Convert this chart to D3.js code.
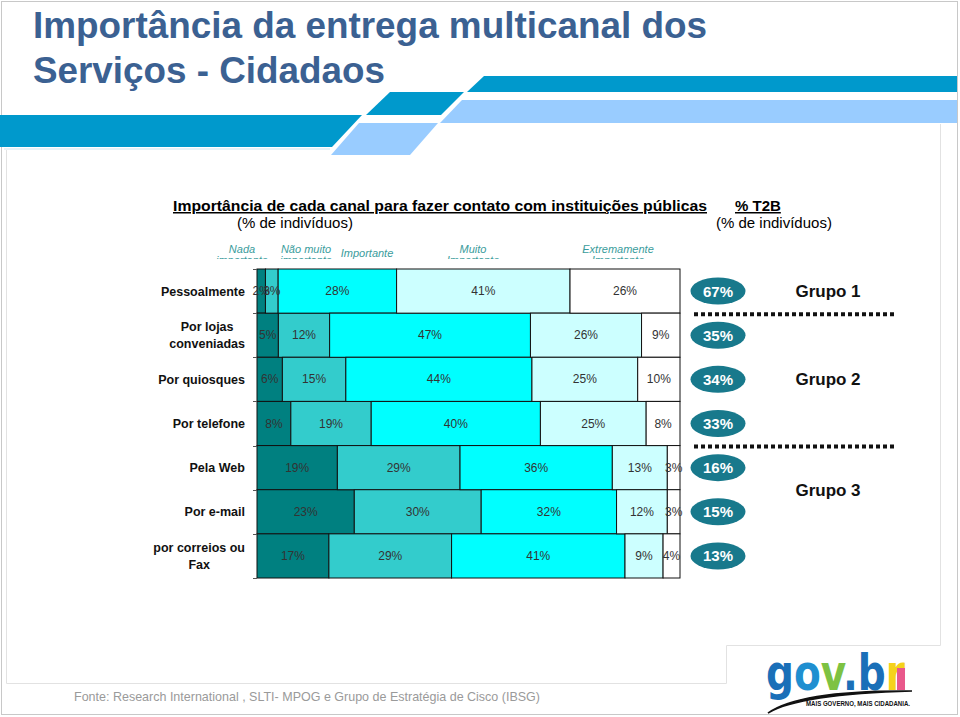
<!DOCTYPE html>
<html><head><meta charset="utf-8">
<script src="https://cdn.jsdelivr.net/npm/d3@7"></script>
<style>body{margin:0;background:#fff}svg{display:block}</style>
</head><body>
<script>
const categories = ["Pessoalmente","Por lojas\nconveniadas","Por quiosques","Por telefone","Pela Web","Por e-mail","por correios ou\nFax"];
const levels = ["Nada importante","Não muito importante","Importante","Muito Importante","Extremamente Importante"];
const nada        = [2, 5, 6, 8, 19, 23, 17];
const naoMuito    = [3, 12, 15, 19, 29, 30, 29];
const importante  = [28, 47, 44, 40, 36, 32, 41];
const muito       = [41, 26, 25, 25, 13, 12, 9];
const extremamente= [26, 9, 10, 8, 3, 3, 4];
const t2b = [67, 35, 34, 33, 16, 15, 13];
const groups = ["Grupo 1","Grupo 2","Grupo 3"];

const W=960,H=717;
const svg=d3.select("body").append("svg").attr("width",W).attr("height",H);
const F="Liberation Sans, Arial, sans-serif";
const FN="'Liberation Sans Narrow','Arial Narrow',Liberation Sans,Arial,sans-serif";

// frame
svg.append("rect").attr("x",1.5).attr("y",1.5).attr("width",956).attr("height",713).attr("fill","none").attr("stroke","#c8c8c8");
const frame=d3.path();
frame.moveTo(940.5,124);frame.lineTo(940.5,645.5);frame.lineTo(726.5,645.5);frame.lineTo(726.5,683.5);frame.lineTo(6.5,683.5);frame.lineTo(6.5,150);
svg.append("path").attr("d",frame.toString()).attr("fill","none").attr("stroke","#e2e2e2");

// decorative bands
const bands=[
 {p:[[0,115],[362,115],[332,147],[0,147]],c:"#0099cc"},
 {p:[[390,92],[464,92],[441,115],[366,115]],c:"#0099cc"},
 {p:[[484,76],[957,76],[957,92],[467,92]],c:"#0099cc"},
 {p:[[462,100],[957,100],[957,123],[440,123]],c:"#99ccff"},
 {p:[[359,123],[438,123],[410,155],[331,155]],c:"#99ccff"}
];
svg.selectAll("polygon.band").data(bands).join("polygon").attr("class","band")
 .attr("points",d=>d.p.map(q=>q.join(",")).join(" ")).attr("fill",d=>d.c);
svg.append("rect").attr("x",4).attr("y",148).attr("width",326).attr("height",2).attr("fill","#e6f2f8");

// title
const title=["Importância da entrega multicanal dos","Serviços - Cidadaos"];
const tl=[674,352];
svg.selectAll("text.title").data(title).join("text").attr("class","title")
 .attr("x",33).attr("y",(d,i)=>38+i*45).attr("font-family",FN).attr("font-weight","bold")
 .attr("font-size",36).attr("fill","#3b6192").attr("textLength",(d,i)=>tl[i]).attr("lengthAdjust","spacingAndGlyphs").text(d=>d);

// subtitle
const sub=svg.append("g").attr("font-family",F).attr("fill","#000");
sub.append("text").attr("x",173).attr("y",211).attr("font-size",15).attr("font-weight","bold").attr("text-decoration","underline")
 .attr("textLength",534).attr("lengthAdjust","spacingAndGlyphs").text("Importância de cada canal para fazer contato com instituições públicas");
sub.append("text").attr("x",237).attr("y",228).attr("font-size",15).text("(% de indivíduos)");
sub.append("text").attr("x",735).attr("y",211).attr("font-size",15).attr("font-weight","bold").attr("text-decoration","underline").text("% T2B");
sub.append("text").attr("x",716).attr("y",228).attr("font-size",15).text("(% de indivíduos)");

// legend header labels (clipped second line)
svg.append("clipPath").attr("id","hclip").append("rect").attr("x",0).attr("y",230).attr("width",W).attr("height",29);
const hx=[242,306,367,473,618];
const hsplit=[["Nada","importante"],["Não muito","importante"],["Importante"],["Muito","Importante"],["Extremamente","Importante"]];
const hg=svg.append("g").attr("clip-path","url(#hclip)").attr("font-family",F).attr("font-style","italic").attr("font-size",11).attr("fill","#3a9c9c").attr("text-anchor","middle");
levels.forEach((lv,i)=>{
  const lines=hsplit[i];
  const t=hg.append("text").attr("x",hx[i]).attr("y",lines.length>1?253:257);
  lines.forEach((ln,j)=>t.append("tspan").attr("x",hx[i]).attr("dy",j?11:0).text(ln));
});

// scales
const x=d3.scaleLinear().domain([0,1]).range([257,680]);
const y=d3.scaleBand().domain(categories).range([269,578]).padding(0);
const colors=["#008080","#33cccc","#00ffff","#ccffff","#ffffff"];
const series=[nada,naoMuito,importante,muito,extremamente];
const rows=categories.map((c,i)=>{const o={cat:c};levels.forEach((l,k)=>o[l]=series[k][i]);return o;});
const stack=d3.stack().keys(levels).offset(d3.stackOffsetExpand)(rows);

const bars=svg.append("g");
stack.forEach((s,k)=>{
  bars.selectAll(null).data(s).join("rect")
   .attr("x",d=>x(d[0])).attr("y",d=>y(d.data.cat))
   .attr("width",d=>x(d[1])-x(d[0])).attr("height",y.bandwidth())
   .attr("fill",colors[k]).attr("stroke","#111").attr("stroke-width",1);
});
stack.forEach((s,k)=>{
  bars.selectAll(null).data(s).join("text")
   .attr("x",d=>(x(d[0])+x(d[1]))/2).attr("y",d=>y(d.data.cat)+y.bandwidth()/2+4)
   .attr("text-anchor","middle").attr("font-family",F).attr("font-size",12).attr("fill","#333")
   .text(d=>d.data[levels[k]]+"%");
});
// category ticks
const ticks=categories.map(c=>y(c)).concat([y.range()[1]]);
svg.selectAll("line.tk").data(ticks).join("line").attr("class","tk")
 .attr("x1",253).attr("x2",257).attr("y1",d=>Math.round(d)+0.5).attr("y2",d=>Math.round(d)+0.5).attr("stroke","#555");

// row labels
const lg=svg.append("g").attr("font-family",F).attr("font-weight","bold").attr("font-size",12.5).attr("fill","#111");
categories.forEach(c=>{
  const lines=c.split("\n");
  const cy=y(c)+y.bandwidth()/2;
  const t=lg.append("text").attr("text-anchor","middle");
  const y0=cy+4.5-(lines.length-1)*8.5;
  lines.forEach((ln,j)=>t.append("tspan").attr("x",0).attr("y",y0+j*17).text(ln));
  const w=t.node().getBBox().width;
  t.attr("transform",`translate(${245-w/2},0)`);
});

// T2B ovals
const og=svg.append("g");
og.selectAll("ellipse").data(t2b).join("ellipse")
 .attr("cx",718).attr("cy",(d,i)=>y(categories[i])+y.bandwidth()/2)
 .attr("rx",27.5).attr("ry",13.5).attr("fill","#18798c");
og.selectAll("text").data(t2b).join("text")
 .attr("x",718).attr("y",(d,i)=>y(categories[i])+y.bandwidth()/2+5.5)
 .attr("text-anchor","middle").attr("font-family",F).attr("font-weight","bold").attr("font-size",15).attr("fill","#fff")
 .text(d=>d+"%");

// groups
const gy=[y(categories[0])+y.bandwidth()/2, y(categories[2])+y.bandwidth()/2, y(categories[5])];
svg.selectAll("text.grp").data(groups).join("text").attr("class","grp")
 .attr("x",828).attr("y",(d,i)=>gy[i]+6).attr("text-anchor","middle")
 .attr("font-family",F).attr("font-weight","bold").attr("font-size",17).attr("fill","#111").text(d=>d);
const sep=[y(categories[1]),y(categories[4])];
svg.selectAll("line.sep").data(sep).join("line").attr("class","sep")
 .attr("x1",694).attr("x2",895).attr("y1",d=>d+1).attr("y2",d=>d+1)
 .attr("stroke","#111").attr("stroke-width",4).attr("stroke-dasharray","4,3");

// footer
svg.append("text").attr("x",74).attr("y",701).attr("font-family",FN).attr("font-size",13).attr("fill","#9a9a9a")
 .attr("textLength",466).attr("lengthAdjust","spacingAndGlyphs")
 .text("Fonte: Research International , SLTI- MPOG e Grupo de Estratégia de Cisco (IBSG)");

// logo
const logo=svg.append("g");
const lt=logo.append("text").attr("x",766).attr("y",690).attr("font-family","DejaVu Sans, sans-serif").attr("font-weight","bold")
 .attr("font-size",50).attr("textLength",139).attr("lengthAdjust","spacingAndGlyphs");
[["g","#1a6fb8"],["o","#1f8fd0"],["v","#7dc242"],[".","#1a6fb8"],["b","#1a6fb8"],["r","#f5d21a"]].forEach(([ch,c])=>lt.append("tspan").attr("fill",c).text(ch));
logo.append("rect").attr("x",897).attr("y",668).attr("width",8).attr("height",22).attr("fill","#e9588b");
logo.append("path").attr("d","M768,713 Q800,690 912,691 Q800,694 768,713 Z").attr("fill","#111").attr("stroke","#111").attr("stroke-width",1.5);
logo.append("text").attr("x",806).attr("y",706).attr("font-family",F).attr("font-weight","bold").attr("font-size",7.5).attr("fill","#111")
 .attr("textLength",104).attr("lengthAdjust","spacingAndGlyphs").text("MAIS GOVERNO, MAIS CIDADANIA.");
</script>
</body></html>
